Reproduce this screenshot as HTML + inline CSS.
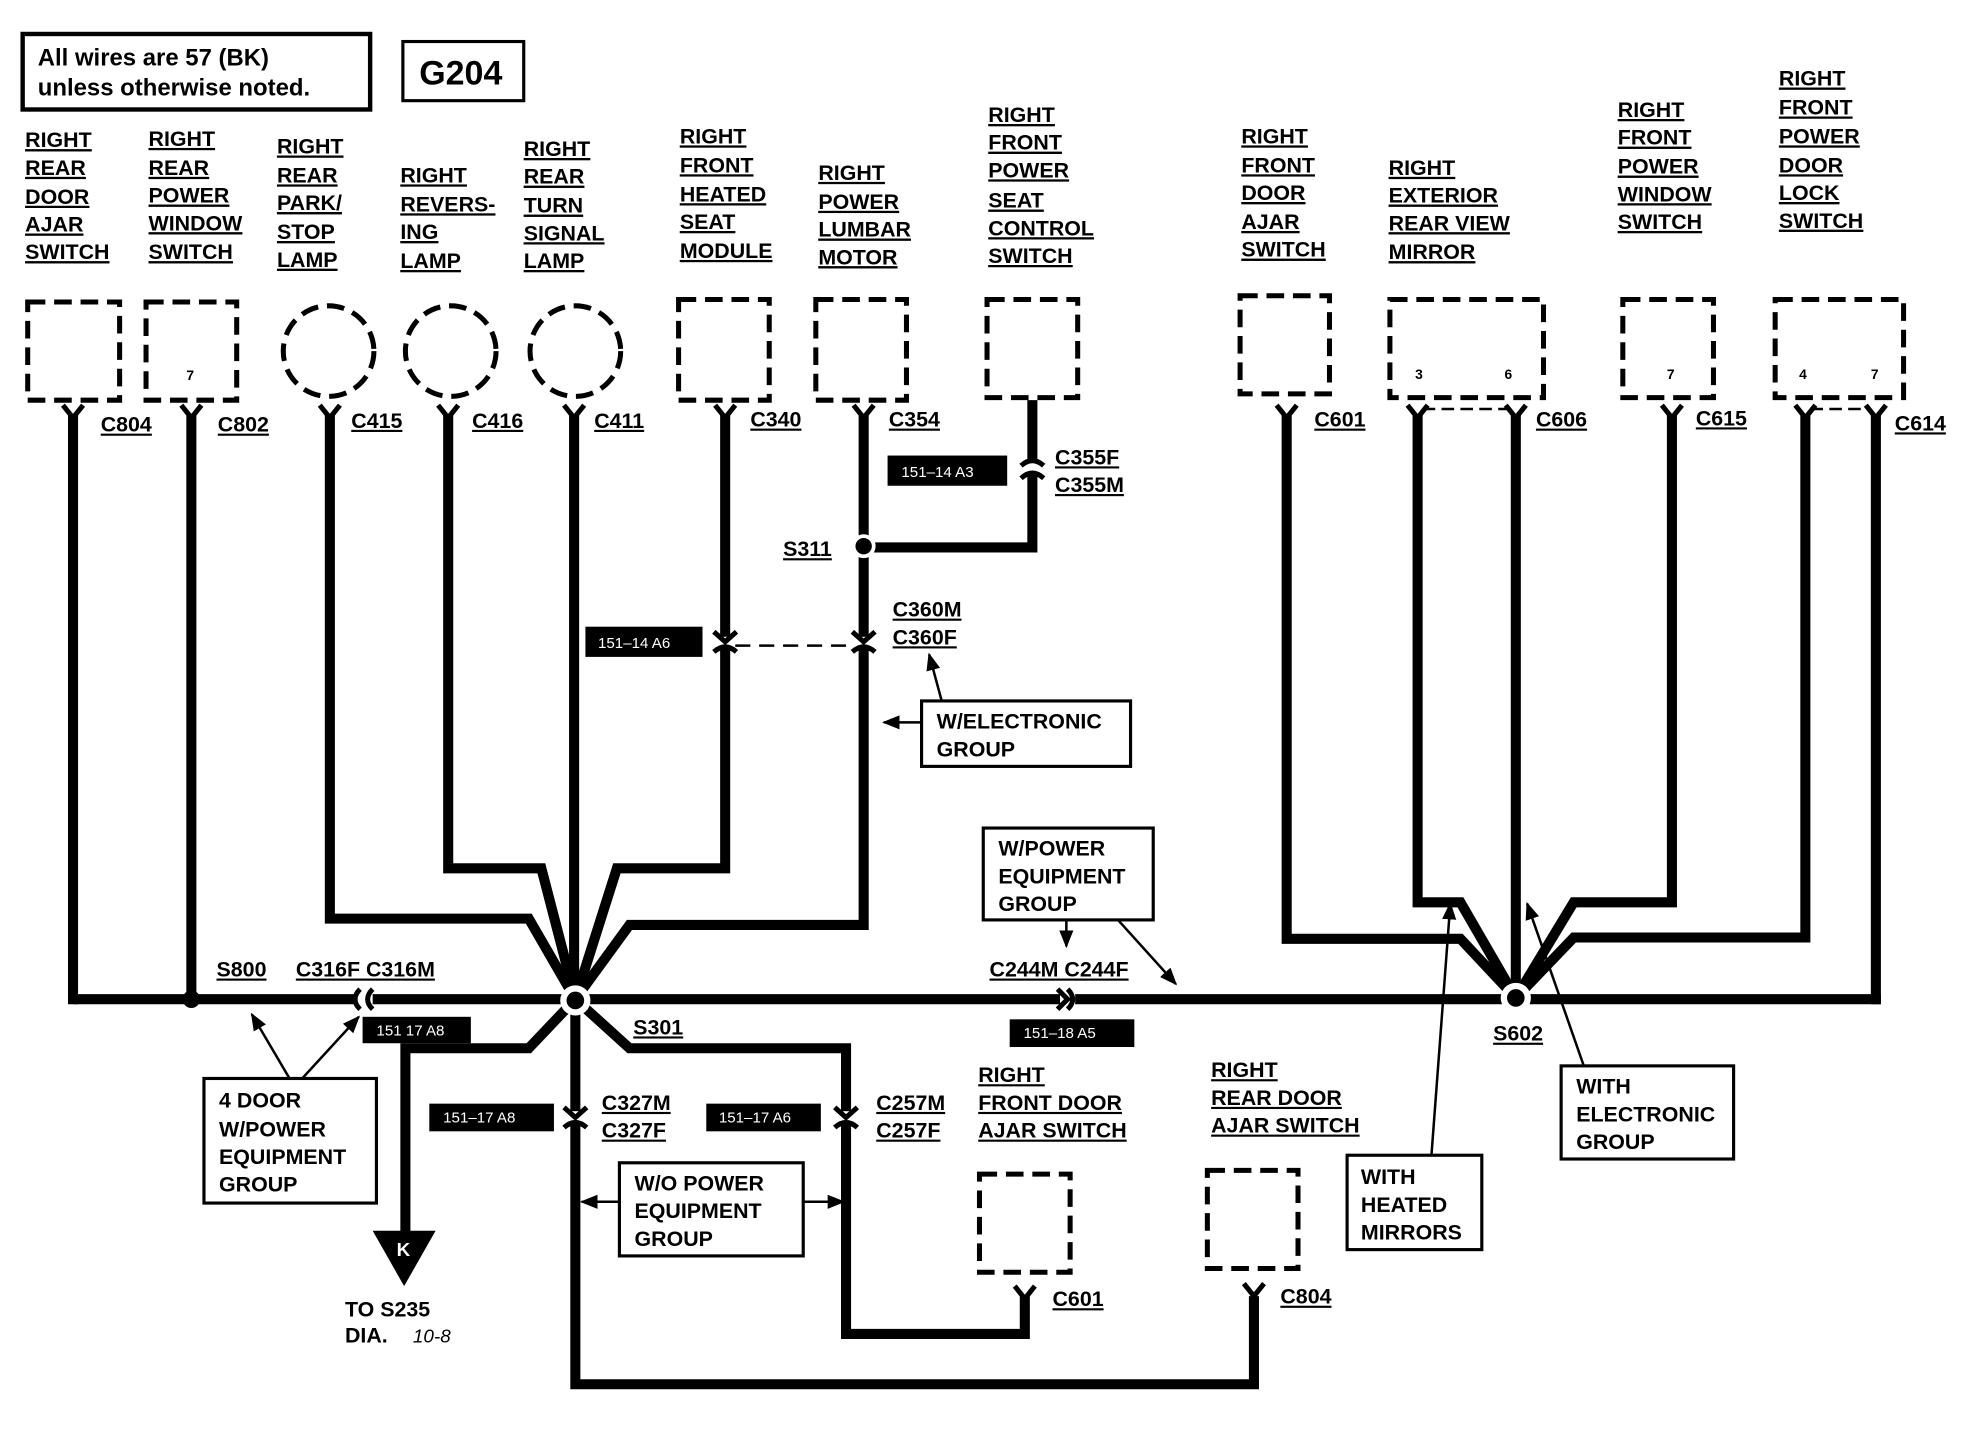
<!DOCTYPE html>
<html><head><meta charset="utf-8"><style>
html,body{margin:0;padding:0;background:#fff;}
svg{display:block}
text{font-family:"Liberation Sans",Arial,sans-serif;font-weight:bold;fill:#000}
.l{font-size:17px;text-decoration:underline}
.n{font-size:17px}
.w{fill:#fff;font-size:12px;font-weight:normal}
.d{fill:none;stroke:#000;stroke-width:4;stroke-dasharray:14 7}
.wr{fill:none;stroke:#000;stroke-width:8;stroke-linejoin:miter}
.th{fill:none;stroke:#000;stroke-width:2}
.bx{fill:#fff;stroke:#000;stroke-width:2.5}
</style></head><body>
<svg width="1964" height="1456" viewBox="0 0 1560 1157" preserveAspectRatio="none" xmlns="http://www.w3.org/2000/svg">
<defs>
<marker id="ar" viewBox="0 0 10 10" refX="9" refY="5" markerWidth="7" markerHeight="7" orient="auto"><path d="M0,1 L10,5 L0,9 Z" fill="#000"/></marker>
</defs>
<rect x="18" y="27" width="276" height="60" fill="none" stroke="#000" stroke-width="3.5"/>
<text x="30" y="52" style="font-size:19px">All wires are 57 (BK)</text>
<text x="30" y="76" style="font-size:19px">unless otherwise noted.</text>
<rect x="320" y="33" width="96" height="47" fill="none" stroke="#000" stroke-width="2.5"/>
<text x="333" y="67" style="font-size:27px">G204</text>

<!-- column labels -->
<g class="l">
<text x="20" y="117" class="l">RIGHT</text><text x="20" y="139" class="l">REAR</text><text x="20" y="162" class="l">DOOR</text><text x="20" y="184" class="l">AJAR</text><text x="20" y="206" class="l">SWITCH</text>
<text x="118" y="116" class="l">RIGHT</text><text x="118" y="139" class="l">REAR</text><text x="118" y="161" class="l">POWER</text><text x="118" y="183" class="l">WINDOW</text><text x="118" y="206" class="l">SWITCH</text>
<text x="220" y="122" class="l">RIGHT</text><text x="220" y="145" class="l">REAR</text><text x="220" y="167" class="l">PARK/</text><text x="220" y="190" class="l">STOP</text><text x="220" y="212" class="l">LAMP</text>
<text x="318" y="145" class="l">RIGHT</text><text x="318" y="168" class="l">REVERS-</text><text x="318" y="190" class="l">ING</text><text x="318" y="213" class="l">LAMP</text>
<text x="416" y="124" class="l">RIGHT</text><text x="416" y="146" class="l">REAR</text><text x="416" y="169" class="l">TURN</text><text x="416" y="191" class="l">SIGNAL</text><text x="416" y="213" class="l">LAMP</text>
<text x="540" y="114" class="l">RIGHT</text><text x="540" y="137" class="l">FRONT</text><text x="540" y="160" class="l">HEATED</text><text x="540" y="182" class="l">SEAT</text><text x="540" y="205" class="l">MODULE</text>
<text x="650" y="143" class="l">RIGHT</text><text x="650" y="166" class="l">POWER</text><text x="650" y="188" class="l">LUMBAR</text><text x="650" y="210" class="l">MOTOR</text>
<text x="785" y="97" class="l">RIGHT</text><text x="785" y="119" class="l">FRONT</text><text x="785" y="141" class="l">POWER</text><text x="785" y="165" class="l">SEAT</text><text x="785" y="187" class="l">CONTROL</text><text x="785" y="209" class="l">SWITCH</text>
<text x="986" y="114" class="l">RIGHT</text><text x="986" y="137" class="l">FRONT</text><text x="986" y="159" class="l">DOOR</text><text x="986" y="182" class="l">AJAR</text><text x="986" y="204" class="l">SWITCH</text>
<text x="1103" y="139" class="l">RIGHT</text><text x="1103" y="161" class="l">EXTERIOR</text><text x="1103" y="183" class="l">REAR VIEW</text><text x="1103" y="206" class="l">MIRROR</text>
<text x="1285" y="93" class="l">RIGHT</text><text x="1285" y="115" class="l">FRONT</text><text x="1285" y="138" class="l">POWER</text><text x="1285" y="160" class="l">WINDOW</text><text x="1285" y="182" class="l">SWITCH</text>
<text x="1413" y="68" class="l">RIGHT</text><text x="1413" y="91" class="l">FRONT</text><text x="1413" y="114" class="l">POWER</text><text x="1413" y="137" class="l">DOOR</text><text x="1413" y="159" class="l">LOCK</text><text x="1413" y="181" class="l">SWITCH</text>
</g>

<!-- dashed components -->
<rect class="d" x="22" y="240" width="73" height="78"/>
<rect class="d" x="116" y="240" width="72" height="78"/><text x="148" y="302" style="font-size:11px">7</text>
<circle class="d" cx="261" cy="279" r="36"/>
<circle class="d" cx="358" cy="279" r="36"/>
<circle class="d" cx="457" cy="279" r="36"/>
<rect class="d" x="539" y="238" width="72" height="80"/>
<rect class="d" x="648" y="238" width="72" height="80"/>
<rect class="d" x="784" y="238" width="72" height="78"/>
<rect class="d" x="985" y="235" width="71" height="78"/>
<rect class="d" x="1104" y="238" width="122" height="78"/><text x="1124" y="301" style="font-size:11px">3</text><text x="1195" y="301" style="font-size:11px">6</text>
<rect class="d" x="1289" y="238" width="72" height="78"/><text x="1324" y="301" style="font-size:11px">7</text>
<rect class="d" x="1410" y="238" width="102" height="78"/><text x="1429" y="301" style="font-size:11px">4</text><text x="1486" y="301" style="font-size:11px">7</text>
<rect class="d" x="778" y="933" width="72" height="78"/>
<rect class="d" x="959" y="930" width="72" height="78"/>
<line x1="1130" y1="325" x2="1200" y2="325" stroke="#000" stroke-width="2" stroke-dasharray="10 5"/>
<line x1="1438" y1="325" x2="1486" y2="325" stroke="#000" stroke-width="2" stroke-dasharray="10 5"/>

<!-- wires -->
<g class="wr">
<line x1="58" y1="794" x2="1494" y2="794"/>
<line x1="58" y1="330" x2="58" y2="798"/>
<line x1="152" y1="330" x2="152" y2="794"/>
<polyline points="262,330 262,730 420,730 457,794"/>
<polyline points="356,330 356,690 430,690 457,794"/>
<line x1="456" y1="330" x2="456" y2="794"/>
<polyline points="576,330 576,690 490,690 457,794"/>
<polyline points="686,330 686,735 500,735 457,794"/>
<polyline points="820,318 820,435 690,435"/>
<polyline points="457,794 457,1100 996,1100 996,1030"/>
<polyline points="457,794 500,833 672,833 672,1060 814,1060 814,1030"/>
<polyline points="457,794 420,833 322,833 322,982"/>
<polyline points="1022,330 1022,746 1160,746 1204,793"/>
<polyline points="1126,330 1126,717 1160,717 1204,793"/>
<line x1="1204" y1="330" x2="1204" y2="793"/>
<polyline points="1328,330 1328,717 1250,717 1204,793"/>
<polyline points="1434,330 1434,745 1250,745 1204,793"/>
<polyline points="1490,330 1490,798"/>
</g>
<!-- Y forks -->
<g fill="none" stroke="#000" stroke-width="4">
<path d="M50,322 L58,332 L66,322"/><path d="M144,322 L152,332 L160,322"/><path d="M254,322 L262,332 L270,322"/><path d="M348,322 L356,332 L364,322"/><path d="M448,322 L456,332 L464,322"/><path d="M568,322 L576,332 L584,322"/><path d="M678,322 L686,332 L694,322"/><path d="M1014,322 L1022,332 L1030,322"/><path d="M1118,322 L1126,332 L1134,322"/><path d="M1196,322 L1204,332 L1212,322"/><path d="M1320,322 L1328,332 L1336,322"/><path d="M1426,322 L1434,332 L1442,322"/><path d="M1482,322 L1490,332 L1498,322"/>
<path d="M806,1022 L814,1032 L822,1022"/><path d="M988,1020 L996,1030 L1004,1020"/>
</g>
<!-- inline connectors -->
<g>
<rect x="812" y="366" width="16" height="10" fill="#fff"/>
<path d="M811,370 Q820,362 829,370 M811,380 Q820,372 829,380" fill="none" stroke="#000" stroke-width="4"/>
<rect x="568" y="506" width="16" height="10" fill="#fff"/><rect x="678" y="506" width="16" height="10" fill="#fff"/>
<path d="M567,502 L576,510 L585,502 M567,518 Q576,510 585,518 M677,502 L686,510 L695,502 M677,518 Q686,510 695,518" fill="none" stroke="#000" stroke-width="4"/>
<line x1="584" y1="513" x2="678" y2="513" stroke="#000" stroke-width="2" stroke-dasharray="12 7"/>
<rect x="449" y="883" width="16" height="10" fill="#fff"/><rect x="664" y="883" width="16" height="10" fill="#fff"/>
<path d="M448,880 L457,888 L466,880 M448,896 Q457,888 466,896 M663,880 L672,888 L681,880 M663,896 Q672,888 681,896" fill="none" stroke="#000" stroke-width="4"/>
<rect x="284" y="789" width="12" height="11" fill="#fff"/><rect x="842" y="789" width="12" height="11" fill="#fff"/>
<path d="M296,786 Q288,794 296,802 M286,786 Q278,794 286,802 M840,786 L848,794 L840,802 M848,786 Q856,794 848,802" fill="none" stroke="#000" stroke-width="4"/>
</g>
<!-- splices -->
<circle cx="152" cy="794" r="7" fill="#000"/>
<circle cx="686" cy="434" r="8" fill="#000" stroke="#fff" stroke-width="3"/>
<circle cx="457" cy="795" r="12" fill="#fff"/><circle cx="457" cy="795" r="7" fill="#000"/>
<circle cx="1204" cy="793" r="12" fill="#fff"/><circle cx="1204" cy="793" r="7" fill="#000"/>
<!-- K arrow -->
<path d="M296,978 L346,978 L321,1022 Z" fill="#000"/>
<text x="315" y="998" style="font-size:15px;fill:#fff">K</text>

<!-- black labels -->
<rect x="705" y="362" width="95" height="24" fill="#000"/><text x="716" y="379" class="w">151–14 A3</text>
<rect x="465" y="498" width="93" height="24" fill="#000"/><text x="475" y="515" class="w">151–14 A6</text>
<rect x="288" y="808" width="86" height="21" fill="#000"/><text x="299" y="823" class="w">151 17 A8</text>
<rect x="341" y="877" width="99" height="22" fill="#000"/><text x="352" y="892" class="w">151–17 A8</text>
<rect x="561" y="877" width="91" height="22" fill="#000"/><text x="571" y="892" class="w">151–17 A6</text>
<rect x="802" y="810" width="99" height="22" fill="#000"/><text x="813" y="825" class="w">151–18 A5</text>

<!-- connector labels -->
<g>
<text x="80" y="343" class="l">C804</text><text x="173" y="343" class="l">C802</text><text x="279" y="340" class="l">C415</text><text x="375" y="340" class="l">C416</text><text x="472" y="340" class="l">C411</text><text x="596" y="339" class="l">C340</text><text x="706" y="339" class="l">C354</text>
<text x="838" y="369" class="l">C355F</text><text x="838" y="391" class="l">C355M</text>
<text x="622" y="442" class="l">S311</text>
<text x="709" y="490" class="l">C360M</text><text x="709" y="512" class="l">C360F</text>
<text x="1044" y="339" class="l">C601</text><text x="1220" y="339" class="l">C606</text><text x="1347" y="338" class="l">C615</text><text x="1505" y="342" class="l">C614</text>
<text x="172" y="776" class="l">S800</text><text x="235" y="776" class="l">C316F C316M</text>
<text x="786" y="776" class="l">C244M C244F</text>
<text x="503" y="822" class="l">S301</text><text x="1186" y="827" class="l">S602</text>
<text x="478" y="882" class="l">C327M</text><text x="478" y="904" class="l">C327F</text>
<text x="696" y="882" class="l">C257M</text><text x="696" y="904" class="l">C257F</text>
<text x="777" y="860" class="l">RIGHT</text><text x="777" y="882" class="l">FRONT DOOR</text><text x="777" y="904" class="l">AJAR SWITCH</text>
<text x="962" y="856" class="l">RIGHT</text><text x="962" y="878" class="l">REAR DOOR</text><text x="962" y="900" class="l">AJAR SWITCH</text>
<text x="836" y="1038" class="l">C601</text><text x="1017" y="1036" class="l">C804</text>
<text x="274" y="1046" class="n">TO S235</text><text x="274" y="1067" class="n">DIA.</text><text x="328" y="1067" style="font-size:15px;font-weight:normal;font-style:italic">10-8</text>
</g>

<!-- note boxes -->
<g>
<rect class="bx" x="732" y="557" width="166" height="52"/><text x="744" y="579" class="n">W/ELECTRONIC</text><text x="744" y="601" class="n">GROUP</text>
<rect class="bx" x="781" y="658" width="135" height="73"/><text x="793" y="680" class="n">W/POWER</text><text x="793" y="702" class="n">EQUIPMENT</text><text x="793" y="724" class="n">GROUP</text>
<rect class="bx" x="162" y="857" width="137" height="99"/><text x="174" y="880" class="n">4 DOOR</text><text x="174" y="903" class="n">W/POWER</text><text x="174" y="925" class="n">EQUIPMENT</text><text x="174" y="947" class="n">GROUP</text>
<rect class="bx" x="492" y="924" width="146" height="74"/><text x="504" y="946" class="n">W/O POWER</text><text x="504" y="968" class="n">EQUIPMENT</text><text x="504" y="990" class="n">GROUP</text>
<rect class="bx" x="1070" y="918" width="107" height="75"/><text x="1081" y="941" class="n">WITH</text><text x="1081" y="963" class="n">HEATED</text><text x="1081" y="985" class="n">MIRRORS</text>
<rect class="bx" x="1240" y="847" width="137" height="74"/><text x="1252" y="869" class="n">WITH</text><text x="1252" y="891" class="n">ELECTRONIC</text><text x="1252" y="913" class="n">GROUP</text>
</g>
<!-- thin arrows -->
<g class="th" marker-end="url(#ar)">
<line x1="748" y1="557" x2="738" y2="520"/>
<line x1="732" y1="574" x2="702" y2="574"/>
<line x1="847" y1="731" x2="847" y2="752"/>
<line x1="888" y1="731" x2="934" y2="782"/>
<line x1="230" y1="857" x2="200" y2="806"/>
<line x1="240" y1="857" x2="285" y2="808"/>
<line x1="492" y1="955" x2="462" y2="955"/>
<line x1="638" y1="955" x2="670" y2="955"/>
<line x1="1137" y1="918" x2="1152" y2="718"/>
<line x1="1258" y1="847" x2="1213" y2="718"/>
</g>
</svg>
</body></html>
